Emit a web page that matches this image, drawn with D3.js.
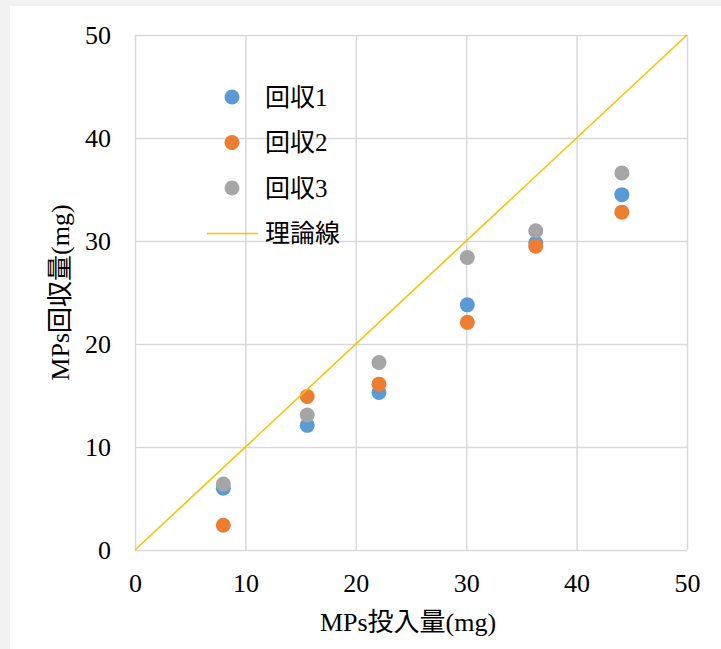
<!DOCTYPE html>
<html>
<head>
<meta charset="utf-8">
<script src="https://cdn.jsdelivr.net/npm/d3@7/dist/d3.min.js"></script>
<style>
	body { margin: 0; background: #f2f2f2; }
	svg { display: block; }
	text { font-family: "Liberation Serif", "Times New Roman", "Noto Sans CJK JP", serif; fill: #000; }
	.grid line { stroke: #d9d9d9; stroke-width: 1.5; }
	.grid path { display: none; }
</style>
</head>
<body>
<script>
(function(){

//chart data
var inputMg = [8.0, 15.6, 22.1, 30.1, 36.3, 44.1]; //MPs投入量
var recovery1 = [6.0, 12.1, 15.3, 23.8, 29.8, 34.5];
var recovery2 = [2.4, 14.9, 16.1, 22.1, 29.5, 32.8];
var recovery3 = [6.4, 13.1, 18.2, 28.4, 31.0, 36.6];
var theoryLine = [0, 50]; //理論線 y = x
var seriesNames = ["回収1", "回収2", "回収3", "理論線"];
var seriesColors = ["#5b9bd5", "#ed7d31", "#a5a5a5", "#ffc000"];
var tickValues = [0, 10, 20, 30, 40, 50];

//frame dimensions
var width = 721,
	height = 649,
	left = 135, right = 687,
	top = 35, bottom = 550;

var svg = d3.select("body")
	.append("svg")
	.attr("width", width)
	.attr("height", height);

//white chart panel on the grey page
svg.append("rect")
	.attr("x", 10)
	.attr("y", 6)
	.attr("width", width - 10)
	.attr("height", height - 6)
	.attr("fill", "#fff");

var x = d3.scaleLinear().domain([0, 50]).range([left, right]);
var y = d3.scaleLinear().domain([0, 50]).range([bottom, top]);

//gridlines + tick labels
var xAxis = svg.append("g")
	.attr("class", "grid")
	.attr("transform", "translate(0," + bottom + ")")
	.call(d3.axisBottom(x).tickValues(tickValues).tickSize(-(bottom - top)).tickPadding(24));

var yAxis = svg.append("g")
	.attr("class", "grid")
	.attr("transform", "translate(" + left + ",0)")
	.call(d3.axisLeft(y).tickValues(tickValues).tickSize(-(right - left)).tickPadding(24));

svg.selectAll(".grid text")
	.style("font-size", "26px")
	.style("font-family", "'Liberation Serif', 'Times New Roman', serif");

//scatter series
var allSeries = [recovery1, recovery2, recovery3];
allSeries.forEach(function(vals, s){
	svg.append("g")
		.selectAll("circle")
		.data(vals)
		.enter()
		.append("circle")
		.attr("cx", function(d, i){ return x(inputMg[i]); })
		.attr("cy", function(d){ return y(d); })
		.attr("r", 7.5)
		.attr("fill", seriesColors[s]);
});

//theory line
svg.append("line")
	.attr("x1", x(theoryLine[0]))
	.attr("y1", y(theoryLine[0]))
	.attr("x2", x(theoryLine[1]))
	.attr("y2", y(theoryLine[1]))
	.attr("stroke", seriesColors[3])
	.attr("stroke-width", 1.6);

//legend
var legend = svg.append("g");
seriesNames.forEach(function(name, i){
	var ly = 97 + i * 45.5;
	if (i < 3){
		legend.append("circle")
			.attr("cx", 232)
			.attr("cy", ly)
			.attr("r", 7.5)
			.attr("fill", seriesColors[i]);
	} else {
		legend.append("line")
			.attr("x1", 207)
			.attr("x2", 258)
			.attr("y1", ly)
			.attr("y2", ly)
			.attr("stroke", seriesColors[i])
			.attr("stroke-width", 1.6);
	}
	legend.append("text")
		.attr("x", 265)
		.attr("y", ly)
		.attr("dy", "0.35em")
		.style("font-size", "25px")
		.text(name);
});

//axis titles
svg.append("text")
	.attr("x", (left + right) / 2 - 3)
	.attr("y", 631)
	.attr("text-anchor", "middle")
	.style("font-size", "26px")
	.text("MPs投入量(mg)");

svg.append("text")
	.attr("transform", "translate(69," + (top + bottom) / 2 + ") rotate(-90)")
	.attr("text-anchor", "middle")
	.style("font-size", "26px")
	.text("MPs回収量(mg)");

})();
</script>
</body>
</html>
